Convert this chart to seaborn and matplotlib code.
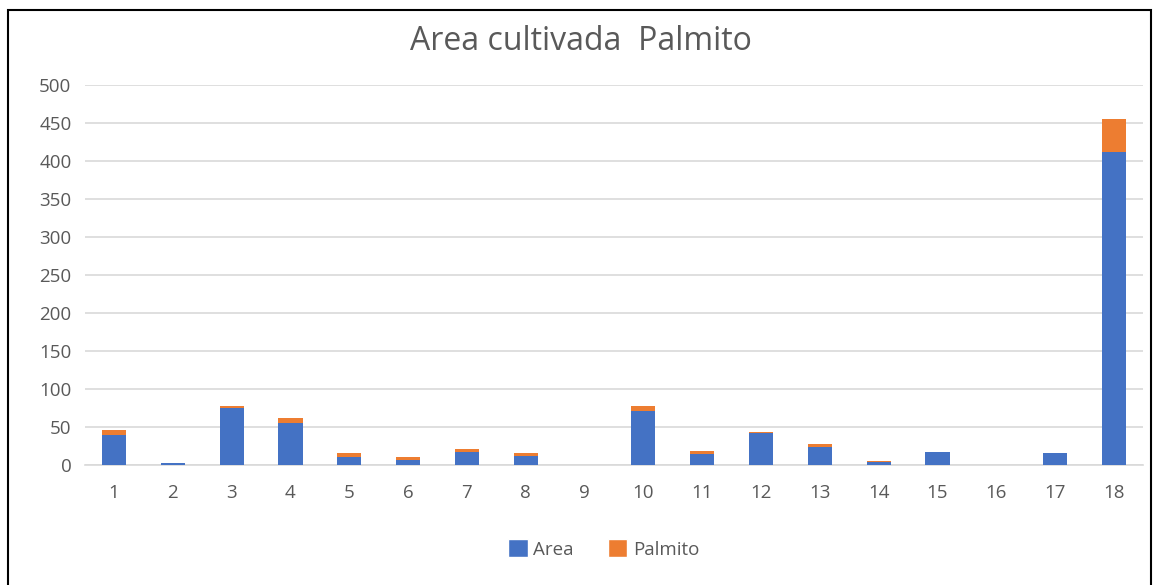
import matplotlib
matplotlib.use("Agg")
import matplotlib.pyplot as plt
import seaborn as sns
import pandas as pd
from matplotlib.patches import Rectangle, Patch

categories = [str(i) for i in range(1, 19)]
area = [39.5, 2, 75.5, 55, 11, 7, 17, 11.5, 0, 71.5, 14, 42, 24, 4, 17, 0, 16, 412]
palmito = [7, 1, 2.5, 7, 4.5, 3.5, 4.5, 4.5, 0, 5.5, 4, 2, 4, 1.5, 0, 0, 0, 43]
yticks = [0, 50, 100, 150, 200, 250, 300, 350, 400, 450, 500]

BLUE = "#4472C4"
ORANGE = "#ED7D31"
GRAY = "#595959"

sns.set_theme(style="white")
plt.rcParams['font.family'] = ['Open Sans', 'Liberation Sans', 'DejaVu Sans']

df = pd.DataFrame({"cat": categories, "area": area,
                   "total": [a + p for a, p in zip(area, palmito)]})

fig = plt.figure(figsize=(11.61, 5.85), dpi=100)
ax = fig.add_axes([84.6 / 1161, 120 / 585, 1058.8 / 1161, 380 / 585])

sns.barplot(data=df, x="cat", y="total", color=ORANGE, width=0.41,
            saturation=1, linewidth=0, ax=ax, zorder=3)
sns.barplot(data=df, x="cat", y="area", color=BLUE, width=0.41,
            saturation=1, linewidth=0, ax=ax, zorder=4)

ax.set_xlim(-0.5, 17.5)
ax.set_ylim(0, 500)
ax.set_yticks(yticks)
ax.set_yticklabels([str(t) for t in yticks])
ax.yaxis.grid(True, color="#D9D9D9", linewidth=1.2, zorder=0)
ax.set_axisbelow(True)
for s in ["top", "right", "left"]:
    ax.spines[s].set_visible(False)
ax.spines["bottom"].set_color("#D9D9D9")
ax.spines["bottom"].set_linewidth(1.2)
ax.tick_params(axis="both", length=0, labelsize=13.5, colors=GRAY)
ax.tick_params(axis="y", pad=9.5)
ax.tick_params(axis="x", pad=14)
ax.set_xlabel("")
ax.set_ylabel("")

fig.text(0.5, 1 - 50 / 585, "Area cultivada  Palmito", ha="center", va="baseline",
         fontsize=23, color=GRAY)

handles = [Patch(facecolor=BLUE, label="Area"), Patch(facecolor=ORANGE, label="Palmito")]
fig.legend(handles=handles, loc="center", bbox_to_anchor=(0.52, 1 - 549 / 585),
           ncol=2, frameon=False, fontsize=13.5, labelcolor=GRAY,
           handlelength=1.05, handleheight=1.05, handletextpad=0.3, columnspacing=1.8)

fig.patches.append(Rectangle((8 / 1161, -0.05), (1151 - 8) / 1161, 1.05 - 10 / 585,
                             transform=fig.transFigure, fill=False,
                             edgecolor="black", linewidth=1.5))

fig.savefig("out.png", dpi=100)
